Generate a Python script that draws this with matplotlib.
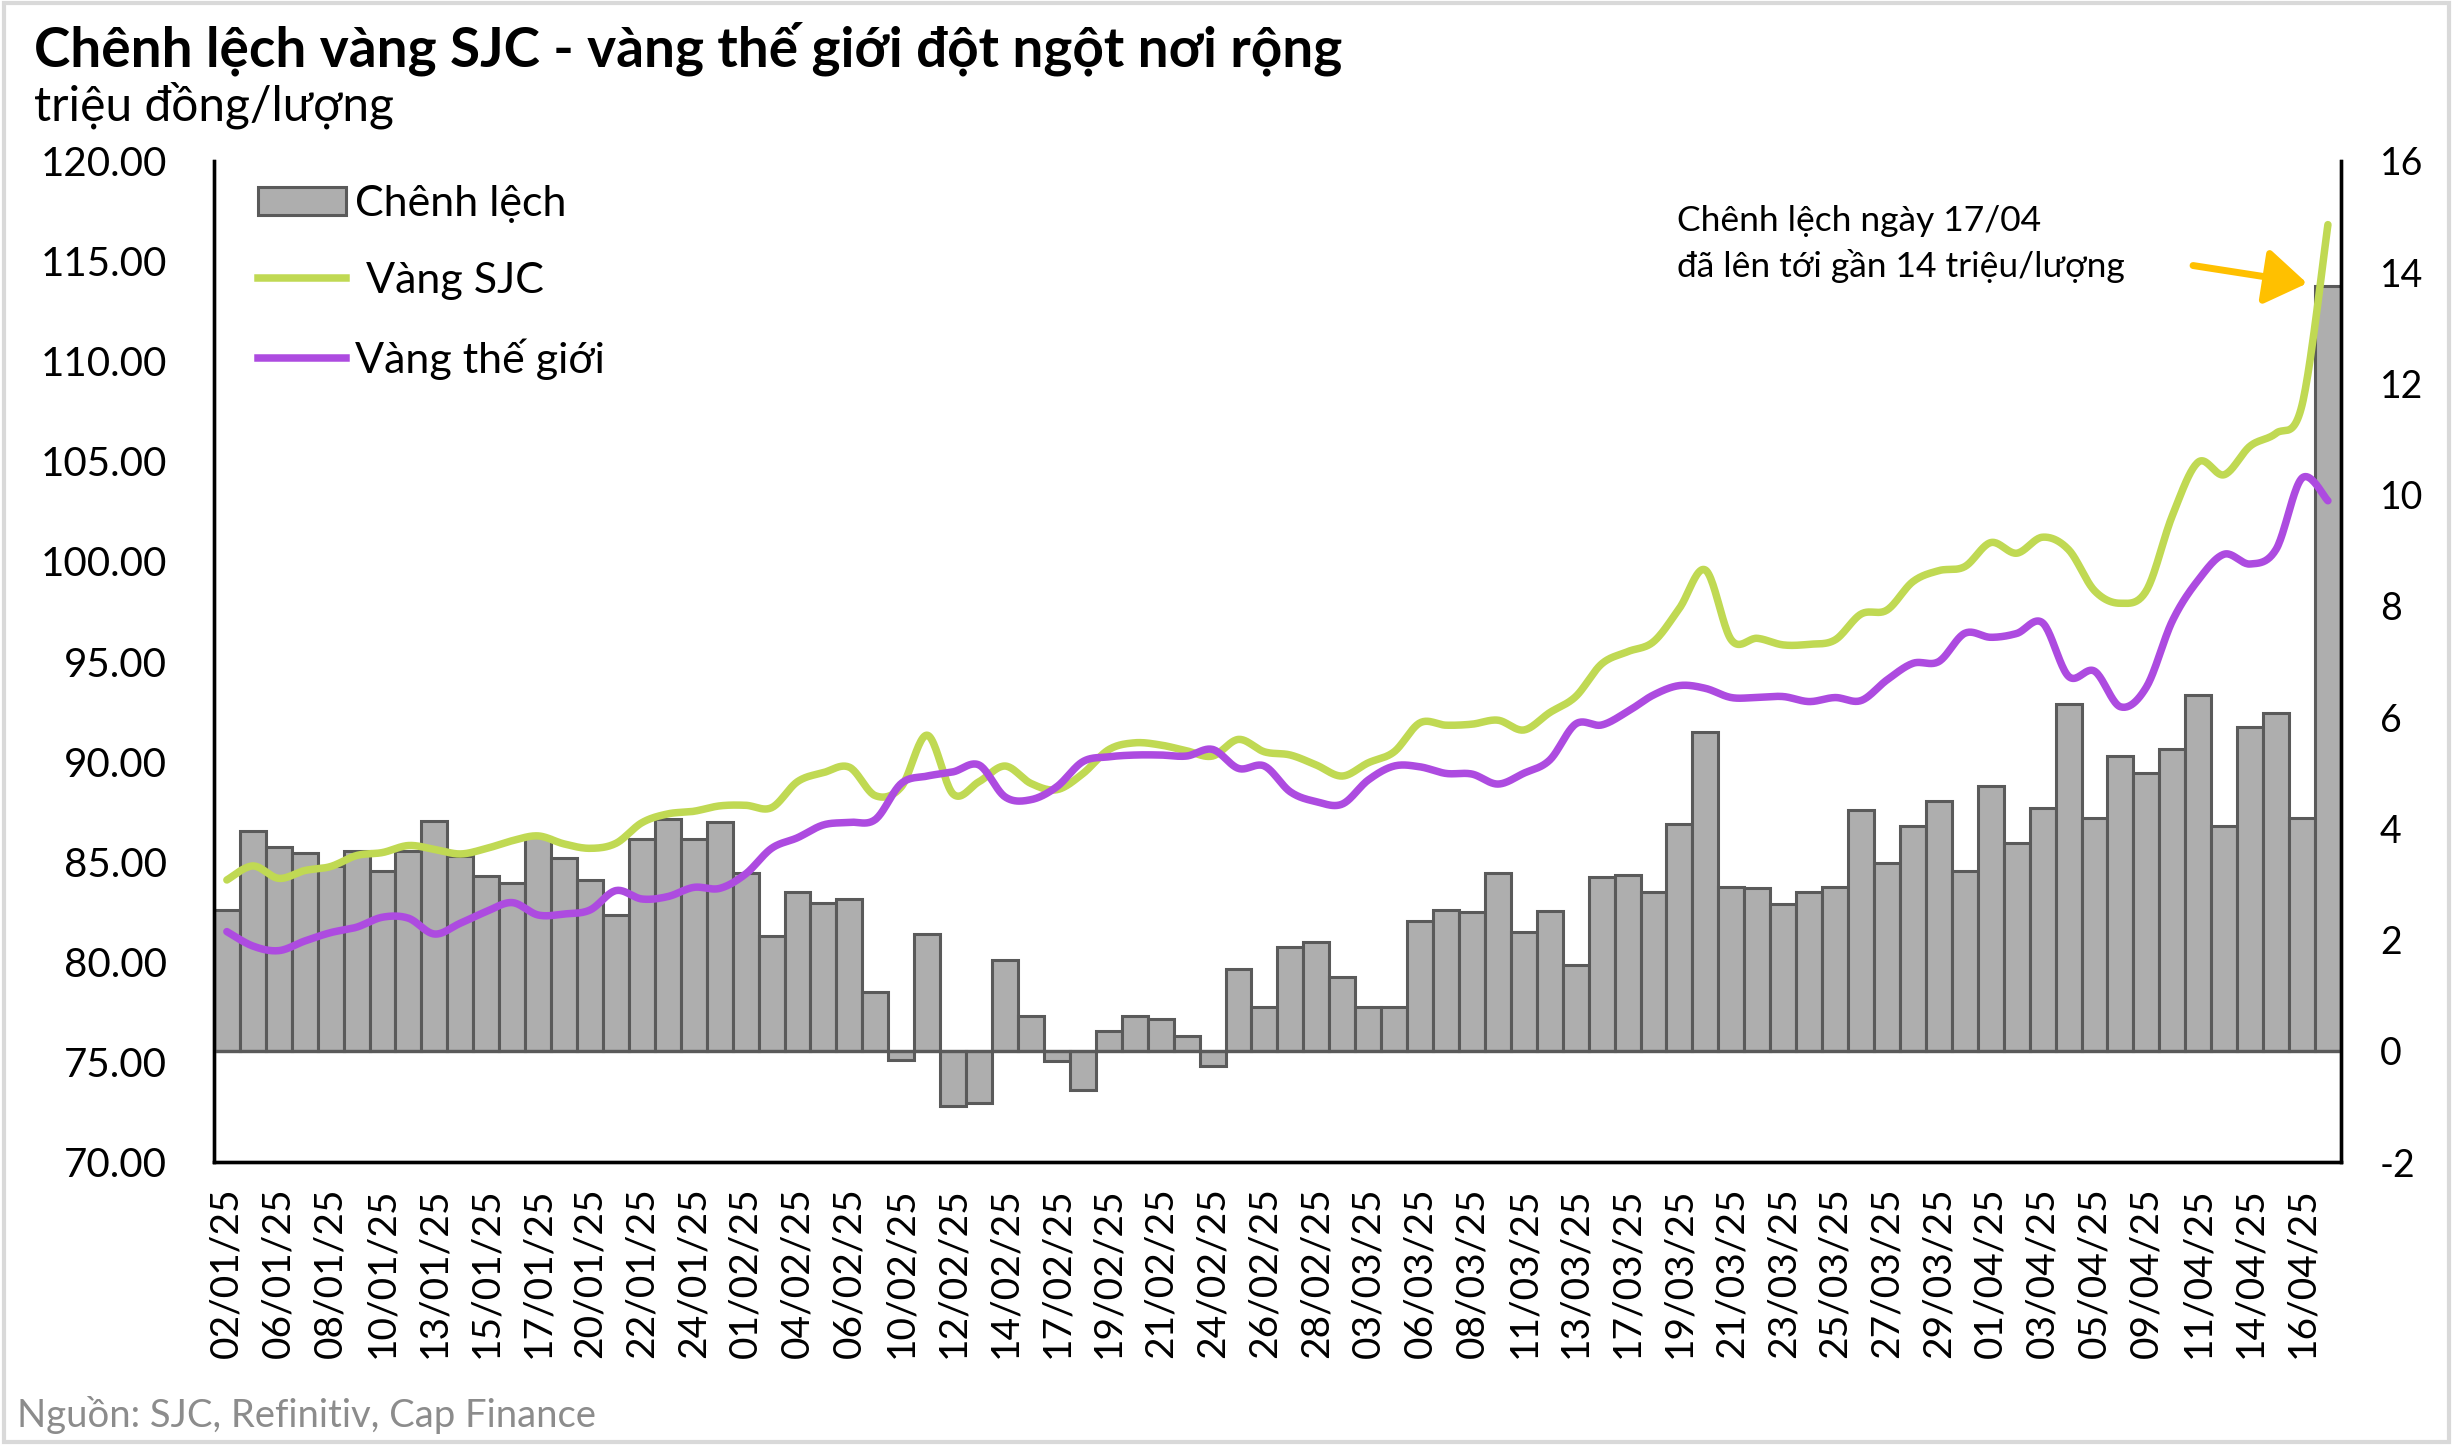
import numpy as np
import matplotlib
matplotlib.use("Agg")
import matplotlib.pyplot as plt
from matplotlib.patches import Rectangle
from matplotlib.lines import Line2D

plt.rcParams['font.family'] = ['Lato', 'DejaVu Sans']

# ---------------- data ----------------
dates = ["02/01/25", "03/01/25", "06/01/25", "07/01/25", "08/01/25", "09/01/25", "10/01/25", "11/01/25",
         "13/01/25", "14/01/25", "15/01/25", "16/01/25", "17/01/25", "18/01/25", "20/01/25", "21/01/25",
         "22/01/25", "23/01/25", "24/01/25", "25/01/25", "01/02/25", "03/02/25", "04/02/25", "05/02/25",
         "06/02/25", "07/02/25", "10/02/25", "11/02/25", "12/02/25", "13/02/25", "14/02/25", "15/02/25",
         "17/02/25", "18/02/25", "19/02/25", "20/02/25", "21/02/25", "22/02/25", "24/02/25", "25/02/25",
         "26/02/25", "27/02/25", "28/02/25", "01/03/25", "03/03/25", "05/03/25", "06/03/25", "07/03/25",
         "08/03/25", "10/03/25", "11/03/25", "12/03/25", "13/03/25", "14/03/25", "17/03/25", "18/03/25",
         "19/03/25", "20/03/25", "21/03/25", "22/03/25", "23/03/25", "24/03/25", "25/03/25", "26/03/25",
         "27/03/25", "28/03/25", "29/03/25", "31/03/25", "01/04/25", "02/04/25", "03/04/25", "04/04/25",
         "05/04/25", "08/04/25", "09/04/25", "10/04/25", "11/04/25", "12/04/25", "14/04/25", "15/04/25",
         "16/04/25", "17/04/25"]

chenh_lech = [2.53, 3.96, 3.66, 3.56, 3.32, 3.59, 3.23, 3.59, 4.14, 3.51, 3.15, 3.02, 3.84, 3.47, 3.08, 2.44,
              3.81, 4.16, 3.80, 4.11, 3.20, 2.07, 2.85, 2.65, 2.73, 1.06, -0.17, 2.10, -1.00, -0.93, 1.63, 0.62,
              -0.18, -0.71, 0.35, 0.62, 0.58, 0.26, -0.27, 1.47, 0.79, 1.86, 1.95, 1.33, 0.79, 0.79, 2.34, 2.53,
              2.50, 3.20, 2.14, 2.52, 1.54, 3.12, 3.17, 2.86, 4.07, 5.73, 2.94, 2.93, 2.64, 2.85, 2.95, 4.33,
              3.37, 4.04, 4.49, 3.23, 4.76, 3.73, 4.36, 6.24, 4.18, 5.30, 4.99, 5.42, 6.39, 4.05, 5.82, 6.08,
              4.18, 13.75]

vang_sjc = [84.09, 84.79, 84.17, 84.56, 84.76, 85.31, 85.46, 85.81, 85.62, 85.39, 85.66, 86.05, 86.29, 85.89,
            85.67, 85.92, 86.95, 87.39, 87.52, 87.79, 87.82, 87.70, 89.00, 89.45, 89.72, 88.30, 88.74, 91.32,
            88.38, 89.00, 89.78, 88.91, 88.60, 89.40, 90.60, 90.94, 90.83, 90.54, 90.28, 91.11, 90.49, 90.33,
            89.83, 89.28, 89.94, 90.49, 91.94, 91.82, 91.87, 92.07, 91.58, 92.45, 93.25, 94.88, 95.49, 95.99,
            97.66, 99.57, 96.08, 96.16, 95.83, 95.86, 96.08, 97.37, 97.57, 98.99, 99.54, 99.74, 100.94, 100.41,
            101.21, 100.59, 98.54, 97.91, 98.54, 102.28, 104.96, 104.33, 105.76, 106.40, 107.80, 116.82]

vang_the_gioi = [81.51, 80.79, 80.56, 81.04, 81.46, 81.73, 82.23, 82.18, 81.39, 81.93, 82.51, 82.96, 82.34, 82.39,
                 82.59, 83.56, 83.14, 83.26, 83.72, 83.67, 84.39, 85.67, 86.20, 86.84, 86.97, 87.11, 88.91, 89.28,
                 89.49, 89.83, 88.24, 88.10, 88.75, 90.00, 90.24, 90.33, 90.33, 90.28, 90.61, 89.66, 89.78, 88.49,
                 88.00, 87.88, 89.08, 89.78, 89.74, 89.41, 89.38, 88.88, 89.42, 90.08, 91.88, 91.83, 92.50, 93.33,
                 93.80, 93.66, 93.20, 93.21, 93.25, 93.00, 93.20, 93.05, 94.08, 94.91, 95.00, 96.41, 96.21, 96.40,
                 96.93, 94.26, 94.52, 92.74, 93.72, 97.02, 99.07, 100.36, 99.87, 100.60, 104.16, 103.03]

left_ticks = [70, 75, 80, 85, 90, 95, 100, 105, 110, 115, 120]
right_ticks = [-2, 0, 2, 4, 6, 8, 10, 12, 14, 16]

title = "Chênh lệch vàng SJC - vàng thế giới đột ngột nơi rộng"
subtitle = "triệu đồng/lượng"
source = "Nguồn: SJC, Refinitiv, Cap Finance"
note = "Chênh lệch ngày 17/04\nđã lên tới gần 14 triệu/lượng"

# ---------------- style ----------------
GREEN = "#C0D953"
PURPLE = "#AD4BE0"
BAR_FC = "#AEAEAE"
BAR_EC = "#5A5A5A"
ARROW = "#FFC000"


def excel_smooth(xs, ys, n=24):
    """Bezier smoothing through every point (like Excel 'smoothed line')."""
    xs = np.asarray(xs, float)
    ys = np.asarray(ys, float)
    outx, outy = [], []
    m = len(xs)
    t = np.linspace(0, 1, n, endpoint=False)
    for i in range(m - 1):
        i0 = max(i - 1, 0)
        i3 = min(i + 2, m - 1)
        for arr, out in ((xs, outx), (ys, outy)):
            p0, p1, p2, p3 = arr[i0], arr[i], arr[i + 1], arr[i3]
            c1 = p1 + (p2 - p0) / 6.0
            c2 = p2 - (p3 - p1) / 6.0
            seg = ((1 - t) ** 3) * p1 + 3 * ((1 - t) ** 2) * t * c1 + 3 * (1 - t) * t ** 2 * c2 + t ** 3 * p2
            out.extend(seg)
    outx.append(xs[-1])
    outy.append(ys[-1])
    return np.array(outx), np.array(outy)


fig = plt.figure(figsize=(24.53, 14.45), dpi=100)
ax = fig.add_axes([0.0872, 0.1958, 0.8671, 0.6928])
ax2 = ax.twinx()

x = np.arange(len(dates))

# bars on secondary axis
ax2.bar(x, chenh_lech, width=1.0, color=BAR_FC, edgecolor=BAR_EC, linewidth=2.2, zorder=2)
ax2.axhline(0, color=BAR_EC, lw=2.4, zorder=3)
ax2.set_ylim(-2, 16)
ax2.set_yticks(right_ticks)
ax2.set_yticklabels([str(v) for v in right_ticks])

# lines on primary axis (drawn above bars)
ax.set_zorder(ax2.get_zorder() + 1)
ax.patch.set_visible(False)
sx, sy = excel_smooth(x, vang_sjc)
wx, wy = excel_smooth(x, vang_the_gioi)
ax.plot(sx, sy, color=GREEN, lw=5.4, solid_capstyle='round', zorder=4)
ax.plot(wx, wy, color=PURPLE, lw=5.4, solid_capstyle='round', zorder=4)
ax.set_ylim(70, 120)
ax.set_yticks(left_ticks)
ax.set_yticklabels([f"{v:.2f}" for v in left_ticks])
ax.set_xlim(-0.5, len(dates) - 0.5)

ax.set_xticks(x[::2])
ax.set_xticklabels(dates[::2], rotation=90, fontsize=28)

for a in (ax, ax2):
    a.spines['top'].set_visible(False)
    for s in ('left', 'right', 'bottom'):
        a.spines[s].set_linewidth(2.4)
        a.spines[s].set_color('black')
ax.tick_params(axis='y', length=0, pad=34, labelsize=29)
ax.tick_params(axis='x', length=0, pad=18)
ax2.tick_params(axis='y', length=0, pad=28, labelsize=27)

# legend
handles = [Rectangle((0, 0), 1, 1, fc=BAR_FC, ec=BAR_EC, lw=2.2),
           Line2D([], [], color=GREEN, lw=5.4),
           Line2D([], [], color=PURPLE, lw=5.4)]
labels = ["Chênh lệch", " Vàng SJC", "Vàng thế giới"]
ax.legend(handles, labels, loc='upper left', bbox_to_anchor=(0.0125, 0.993), borderaxespad=0,
          frameon=False, fontsize=31, handlelength=2.05, handleheight=0.65, handletextpad=0.2,
          labelspacing=0.9)

# annotation
ax2.text(0.688, 0.917, note, transform=ax2.transAxes, fontsize=25.5, va='center', ha='left',
         linespacing=1.45, color='black')
ax2.annotate("", xy=(80.2, 13.8), xytext=(75.8, 14.12),
             arrowprops=dict(arrowstyle='-|>,head_length=0.75,head_width=0.5', color=ARROW, lw=5,
                             mutation_scale=34, shrinkA=0, shrinkB=0), zorder=6)

# titles and source
fig.text(0.014, 0.966, title, fontsize=39.5, fontweight='bold', va='center', ha='left')
fig.text(0.014, 0.927, subtitle, fontsize=34.5, va='center', ha='left')
fig.text(0.007, 0.021, source, fontsize=27.5, va='center', ha='left', color='#8C8C8C')

# figure frame
fig.patches.append(Rectangle((0.0015, 0.002), 0.997, 0.996, transform=fig.transFigure, fill=False,
                             ec='#D9D9D9', lw=3))

fig.savefig("out.png", dpi=100)
